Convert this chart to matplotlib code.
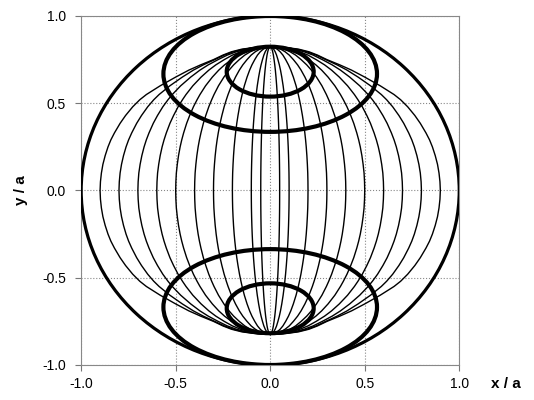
import matplotlib
matplotlib.use("Agg")
import matplotlib.pyplot as plt
from matplotlib.patches import Ellipse, Circle
from matplotlib.ticker import FormatStrFormatter

plt.rcParams['font.family'] = ['Liberation Sans', 'DejaVu Sans']
plt.rcParams['axes.unicode_minus'] = False

# widths (x/a at y=0) of the thin curves, both sides
curve_widths = [0.05, 0.1, 0.2, 0.3, 0.4, 0.5, 0.6, 0.7, 0.8, 0.9]
# how much each curve is pulled in towards the outer envelope near the top
curve_pinch = [0.0, 0.0, 0.0, 0.0, 0.0, 0.0, 0.05, 0.2, 0.55, 1.0]

# upper half of the thin curves
profile_y = [0.0, 0.05, 0.1, 0.15, 0.2, 0.25, 0.29, 0.33, 0.385, 0.43, 0.48, 0.52,
             0.55, 0.6, 0.65, 0.69, 0.72, 0.75, 0.776, 0.795, 0.81, 0.82, 0.824]
# inner curves, as a fraction of their width
inner_frac = [1.0, 0.998, 0.993, 0.983, 0.970, 0.953, 0.936, 0.916, 0.884, 0.852,
              0.812, 0.774, 0.743, 0.684, 0.612, 0.544, 0.483, 0.409, 0.336, 0.263,
              0.184, 0.098, 0.0]
# outermost curve (width 0.9), x / a
outer_x = [0.90, 0.898, 0.893, 0.885, 0.873, 0.858, 0.843, 0.824, 0.794, 0.765,
           0.727, 0.69, 0.655, 0.582, 0.5, 0.43, 0.368, 0.30, 0.25, 0.205,
           0.15, 0.08, 0.0]

# thick ellipses: centre y, full width, full height
ellipse_cy = [0.668, -0.668, 0.681, -0.675]
ellipse_w = [1.13, 1.13, 0.46, 0.46]
ellipse_h = [0.664, 0.664, 0.286, 0.286]

ticks = [-1.0, -0.5, 0.0, 0.5, 1.0]

fig = plt.figure(figsize=(5.34, 4.0), dpi=100)
ax = fig.add_axes([0.152, 0.0875, 0.708, 0.8725])

outer_frac = [v / outer_x[0] for v in outer_x]
ys = [-v for v in profile_y[::-1]] + profile_y[1:]
for w, p in zip(curve_widths, curve_pinch):
    frac = [p * o + (1 - p) * i for o, i in zip(outer_frac, inner_frac)]
    xs = frac[::-1] + frac[1:]
    ax.plot([w * v for v in xs], ys, color='black', lw=1.0, zorder=2)
    ax.plot([-w * v for v in xs], ys, color='black', lw=1.0, zorder=2)

ax.add_patch(Circle((0, 0), 1.0, fill=False, ec='black', lw=2.3, zorder=3))
for cy, w, h in zip(ellipse_cy, ellipse_w, ellipse_h):
    ax.add_patch(Ellipse((0, cy), w, h, fill=False, ec='black', lw=3.0, zorder=4))

ax.set_xlim(-1, 1)
ax.set_ylim(-1, 1)
ax.set_xticks(ticks)
ax.set_yticks(ticks)
ax.xaxis.set_major_formatter(FormatStrFormatter('%.1f'))
ax.yaxis.set_major_formatter(FormatStrFormatter('%.1f'))
ax.tick_params(direction='out', length=4, width=0.8, color='#777777', labelsize=10)
ax.tick_params(axis='x', pad=5)
ax.tick_params(axis='y', pad=7)
ax.grid(True, color='#888888', ls=':', lw=0.8, zorder=1)
for s in ax.spines.values():
    s.set_color('#888888')
    s.set_linewidth(0.8)

ax.set_ylabel('y / a', fontsize=11, fontweight='bold', labelpad=10)
ax.set_xlabel('x / a', fontsize=11, fontweight='bold')
ax.xaxis.set_label_coords(1.124, -0.034)

fig.savefig('out.png', dpi=100)
